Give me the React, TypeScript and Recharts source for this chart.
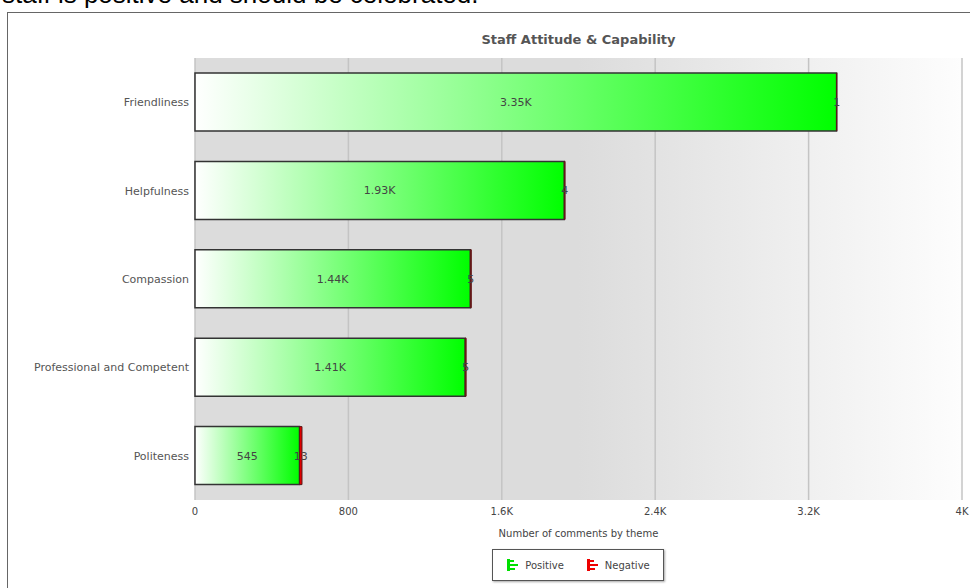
import {
  BarChart,
  Bar,
  XAxis,
  YAxis,
  CartesianGrid,
  LabelList,
} from "recharts";

const themes = [
  "Friendliness",
  "Helpfulness",
  "Compassion",
  "Professional and Competent",
  "Politeness",
];
const positive = [3346, 1926, 1436, 1409, 545];
const negative = [1, 4, 5, 5, 13];
const xTicks = [0, 800, 1600, 2400, 3200, 4000];

const data = themes.map((theme, i) => ({
  theme,
  positive: positive[i],
  negative: negative[i],
}));

const FONT = "'DejaVu Sans', Verdana, sans-serif";

function formatK(v: number): string {
  if (v >= 1000) {
    const k = v / 1000;
    return `${Number(k.toFixed(2))}K`;
  }
  return String(v);
}

function LegendIcon({ color }: { color: string }) {
  return (
    <svg width={14} height={14} style={{ marginRight: 5 }}>
      <rect x={1} y={1} width={3} height={12} fill={color} />
      <rect x={4} y={2} width={4} height={2} fill={color} />
      <rect x={4} y={6} width={8} height={2} fill={color} />
      <rect x={4} y={10} width={5} height={2} fill={color} />
    </svg>
  );
}

export default function App() {
  return (
    <div
      style={{
        position: "absolute",
        left: 0,
        top: 0,
        width: 970,
        height: 588,
        overflow: "hidden",
        background: "#fff",
      }}
    >
      <div
        style={{
          position: "absolute",
          left: 2,
          top: -21,
          fontFamily: "'Liberation Sans', Arial, sans-serif",
          fontSize: 26,
          color: "#000",
          whiteSpace: "nowrap",
        }}
      >
        staff is positive and should be celebrated.
      </div>
      <div
        style={{
          position: "absolute",
          left: 7,
          top: 12,
          width: 980,
          height: 600,
          border: "1px solid #666",
        }}
      />
      <div
        style={{
          position: "absolute",
          left: 195,
          width: 767,
          top: 32,
          textAlign: "center",
          fontFamily: FONT,
          fontSize: 13,
          fontWeight: "bold",
          color: "#555",
        }}
      >
        Staff Attitude &amp; Capability
      </div>
      <div style={{ position: "absolute", left: 0, top: 0 }}>
        <BarChart
          width={970}
          height={588}
          data={data}
          layout="vertical"
          margin={{ top: 58, right: 8, left: 0, bottom: 46 }}
          barSize={58}
        >
          <defs>
            <linearGradient id="bgGrad" x1="0" y1="0" x2="1" y2="0">
              <stop offset="0%" stopColor="#dcdcdc" />
              <stop offset="50%" stopColor="#dcdcdc" />
              <stop offset="100%" stopColor="#fdfdfd" />
            </linearGradient>
            <linearGradient id="greenGrad" x1="0" y1="0" x2="1" y2="0">
              <stop offset="0%" stopColor="#ffffff" />
              <stop offset="100%" stopColor="#00ff00" />
            </linearGradient>
          </defs>
          <CartesianGrid
            horizontal={false}
            stroke="#c4c4c4"
            strokeWidth={1.5}
            fill="url(#bgGrad)"
            fillOpacity={1}
          />
          <XAxis
            type="number"
            domain={[0, 4000]}
            ticks={xTicks}
            tickFormatter={formatK}
            axisLine={false}
            tickLine={false}
            tickSize={0}
            tickMargin={8}
            height={42}
            tick={{ fontSize: 10, fill: "#444", fontFamily: FONT }}
            label={{
              value: "Number of comments by theme",
              position: "insideBottom",
              offset: 5,
              style: { fontSize: 10, fill: "#444", fontFamily: FONT },
            }}
          />
          <YAxis
            type="category"
            dataKey="theme"
            width={195}
            axisLine={false}
            tickLine={false}
            tickSize={0}
            tickMargin={6}
            tick={{ fontSize: 11, fill: "#555", fontFamily: FONT }}
          />
          <Bar
            dataKey="positive"
            stackId="a"
            fill="url(#greenGrad)"
            stroke="#333"
            strokeWidth={1.5}
            isAnimationActive={false}
          >
            <LabelList
              dataKey="positive"
              position="center"
              formatter={(v: any) => formatK(Number(v))}
              style={{ fontSize: 11, fill: "#444", fontFamily: FONT }}
            />
          </Bar>
          <Bar
            dataKey="negative"
            stackId="a"
            fill="#e00000"
            stroke="#5a1a1a"
            strokeWidth={1}
            isAnimationActive={false}
          >
            <LabelList
              dataKey="negative"
              position="center"
              style={{ fontSize: 11, fill: "#444", fontFamily: FONT }}
            />
          </Bar>
        </BarChart>
      </div>
      <div
        style={{
          position: "absolute",
          left: 492,
          top: 549,
          width: 170,
          height: 30,
          border: "1px solid #555",
          boxShadow: "1px 1px 2px rgba(0,0,0,0.35)",
          background: "#fff",
          display: "flex",
          alignItems: "center",
          justifyContent: "center",
          gap: 22,
          fontFamily: FONT,
          fontSize: 10,
          color: "#444",
        }}
      >
        <span style={{ display: "flex", alignItems: "center" }}>
          <LegendIcon color="#00e000" />
          Positive
        </span>
        <span style={{ display: "flex", alignItems: "center" }}>
          <LegendIcon color="#ee0000" />
          Negative
        </span>
      </div>
    </div>
  );
}
